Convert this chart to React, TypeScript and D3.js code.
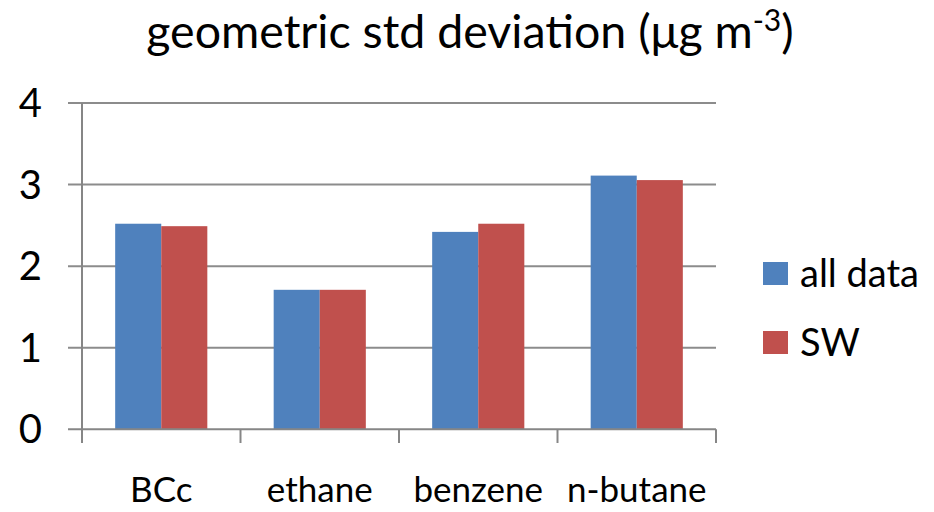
import React from "react";
import * as d3 from "d3";

const categories = ["BCc", "ethane", "benzene", "n-butane"];
const seriesNames = ["all data", "SW"];
const allData = [2.52, 1.71, 2.42, 3.11];
const sw = [2.49, 1.71, 2.52, 3.055];
const yTicks = [0, 1, 2, 3, 4];
const colors = ["#4F81BD", "#C0504D"];

const W = 934;
const H = 512;
const FONT = "Lato, 'Open Sans', sans-serif";

export default function App() {
  const left = 82;
  const right = 716;
  const top = 103;
  const bottom = 429.3;

  const x = d3.scaleBand<string>().domain(categories).range([left, right]).paddingInner(0).paddingOuter(0);
  const y = d3.scaleLinear().domain([0, 4]).range([bottom, top]);
  const inner = d3.scaleBand<string>().domain(seriesNames).range([0, x.bandwidth()]).paddingOuter(0.72).paddingInner(0);

  const series = [allData, sw];

  return (
    <svg width={W} height={H} style={{ position: "absolute", left: 0, top: 0 }} fontFamily={FONT}>
      <rect width={W} height={H} fill="#fff" />
      <text x={470} y={48} textAnchor="middle" fontSize={46.5} fill="#000">
        geometric std deviation (μg m<tspan dy={-17} fontSize={30}>-3</tspan><tspan dy={17}>)</tspan>
      </text>
      {yTicks.slice(1).map((t) => (
        <line key={t} x1={68} x2={right} y1={y(t)} y2={y(t)} stroke="#8c8c8c" strokeWidth={2} />
      ))}
      {series.map((vals, si) =>
        categories.map((c, ci) => (
          <rect
            key={si + "-" + ci}
            x={(x(c) as number) + (inner(seriesNames[si]) as number)}
            y={y(vals[ci])}
            width={inner.bandwidth()}
            height={bottom - y(vals[ci])}
            fill={colors[si]}
          />
        ))
      )}
      <line x1={left} x2={left} y1={top} y2={bottom} stroke="#868686" strokeWidth={2} />
      <line x1={68} x2={right} y1={bottom} y2={bottom} stroke="#868686" strokeWidth={2} />
      {categories.concat([""]).map((c, i) => {
        const xv = left + i * x.bandwidth();
        return <line key={"t" + i} x1={xv} x2={xv} y1={bottom} y2={443} stroke="#868686" strokeWidth={2} />;
      })}
      {yTicks.map((t) => (
        <text key={"y" + t} x={42} y={y(t) + 14} textAnchor="end" fontSize={40} fill="#000">
          {t}
        </text>
      ))}
      {categories.map((c) => (
        <text key={"x" + c} x={(x(c) as number) + x.bandwidth() / 2} y={502} textAnchor="middle" fontSize={35} fill="#000">
          {c}
        </text>
      ))}
      {seriesNames.map((s, i) => (
        <g key={"l" + s} transform={`translate(763, ${262 + i * 69})`}>
          <rect width={25} height={23} fill={colors[i]} />
          <text x={37} y={25} fontSize={38} fill="#000">
            {s}
          </text>
        </g>
      ))}
    </svg>
  );
}
